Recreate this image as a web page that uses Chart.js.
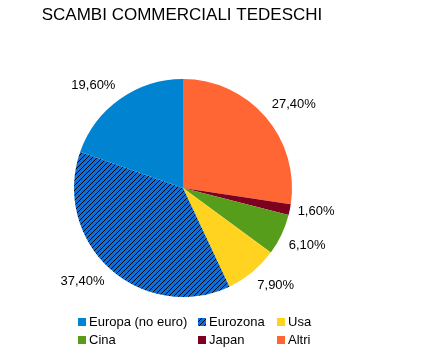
<!DOCTYPE html>
<html>
<head>
<meta charset="utf-8">
<script src="https://cdn.jsdelivr.net/npm/chart.js@4.4.1/dist/chart.umd.min.js"></script>
<style>
  html, body { margin: 0; padding: 0; background: #fff; }
  #wrap { width: 435px; height: 360px; }
</style>
</head>
<body>
<div id="wrap"><canvas id="chart" width="435" height="360"></canvas></div>
<script>
// data, clockwise from 12 o'clock
const labels = ['Altri', 'Japan', 'Cina', 'Usa', 'Eurozona', 'Europa (no euro)'];
const shares = [27.4, 1.6, 6.1, 7.9, 37.4, 19.6];
const colours = ['#ff6633', '#7e0021', '#579d1c', '#ffd320', 'hatch', '#0084d1'];
const titleText = 'SCAMBI COMMERCIALI TEDESCHI';

const FONT = '"Liberation Sans", Arial, sans-serif';

function makeHatch() {
    const tile = document.createElement('canvas');
    tile.width = 5; tile.height = 5;
    const c = tile.getContext('2d');
    c.fillStyle = '#0f6fd6';
    c.fillRect(0, 0, 5, 5);
    c.strokeStyle = '#000';
    c.lineWidth = 1;
    c.beginPath();
    c.moveTo(-1, 6); c.lineTo(6, -1);
    c.moveTo(-1, 1); c.lineTo(1, -1);
    c.moveTo(4, 6); c.lineTo(6, 4);
    c.stroke();
    return c.createPattern(tile, 'repeat');
}

const ctx = document.getElementById('chart').getContext('2d');
const hatch = makeHatch();
const fills = colours.map(c => c === 'hatch' ? hatch : c);

const fmt = v => v.toFixed(2).replace('.', ',') + '%';

// title, outside labels and a column legend
const decor = {
    id: 'decor',
    afterDraw(chart) {
        const g = chart.ctx;
        g.save();
        g.fillStyle = '#000';
        g.textBaseline = 'middle';

        g.font = '17px ' + FONT;
        g.textAlign = 'center';
        const area = chart.chartArea;
        g.fillText(titleText, (area.left + area.right) / 2 - 1, 15);

        // labels anchored just outside the rim, text pushed away from the pie
        g.font = '13px ' + FONT;
        const meta = chart.getDatasetMeta(0);
        meta.data.forEach((arc, i) => {
            const p = arc.getProps(['x', 'y', 'startAngle', 'endAngle', 'outerRadius'], true);
            const mid = (p.startAngle + p.endAngle) / 2;
            const dx = Math.cos(mid), dy = Math.sin(mid);
            const r = p.outerRadius + 8;
            let ax = p.x + dx * r, ay = p.y + dy * r;
            g.textAlign = dx > 0.1 ? 'left' : (dx < -0.1 ? 'right' : 'center');
            if (dy < -0.3) ay -= 7;
            else if (dy > 0.3) ay += 7;
            g.fillText(fmt(shares[i]), ax, ay);
        });

        // legend, reversed order in a 3 column grid
        const colX = [78, 198, 277];
        const rowY = [322, 340];
        g.textAlign = 'left';
        const order = labels.map((_, i) => labels.length - 1 - i);
        order.forEach((idx, k) => {
            const x = colX[k % 3], y = rowY[Math.floor(k / 3)];
            g.fillStyle = fills[idx];
            g.fillRect(x, y - 4, 8, 8);
            g.fillStyle = '#000';
            g.fillText(labels[idx], x + 11, y);
        });
        g.restore();
    }
};

new Chart(ctx, {
    type: 'pie',
    data: {
        labels: labels,
        datasets: [{
            data: shares,
            backgroundColor: fills,
            borderWidth: 0
        }]
    },
    options: {
        responsive: false,
        animation: false,
        layout: { padding: { left: 74, right: 143, top: 79, bottom: 63 } },
        plugins: {
            legend: { display: false },
            title: { display: false },
            tooltip: { enabled: false }
        }
    },
    plugins: [decor]
});
</script>
</body>
</html>
